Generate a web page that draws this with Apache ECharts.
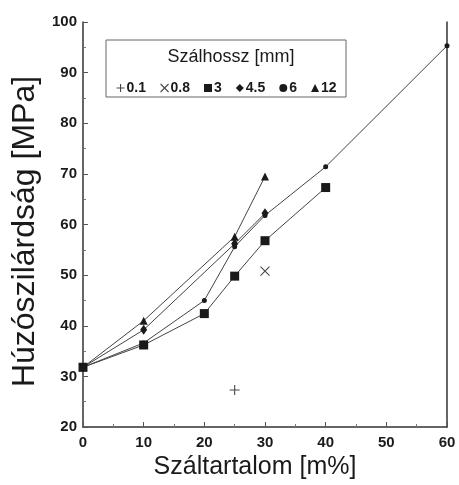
<!DOCTYPE html>
<html>
<head>
<meta charset="utf-8">
<script src="https://cdn.jsdelivr.net/npm/echarts@6/dist/echarts.min.js"></script>
<style>
  html, body { margin: 0; padding: 0; background: #fff; }
  #chart { width: 459px; height: 485px; }
</style>
</head>
<body>
<div id="chart"></div>
<script>
// Fibre length series (mm) and measured tensile strength (MPa) vs fibre content (m%)
const lengthNames = ['0.1', '0.8', '3', '4.5', '6', '12'];

const len01 = [[25, 27.3]];
const len08 = [[30, 50.8]];
const len3  = [[0, 31.8], [10, 36.2], [20, 42.4], [25, 49.8], [30, 56.8], [40, 67.3]];
const len45 = [[0, 31.8], [10, 39.2], [25, 56.2], [30, 62.2]];
const len6  = [[0, 31.8], [10, 36.6], [20, 45.0], [25, 55.6], [30, 61.8], [40, 71.4], [60, 95.3]];
const len12 = [[0, 31.8], [10, 41.0], [25, 57.6], [30, 69.5]];

const xTitle = 'Száltartalom [m%]';
const yTitle = 'Húzószilárdság [MPa]';
const legendTitle = 'Szálhossz [mm]';

const plusPath = 'path://M5,0V10M0,5H10';
const crossPath = 'path://M0,0L10,10M10,0L0,10';

const ink = '#1a1a1a';
const lineInk = '#444';
const font = 'Liberation Sans, Arial, Helvetica, sans-serif';

const chart = echarts.init(document.getElementById('chart'), null, { renderer: 'canvas' });

const strokeStyle = { color: 'rgba(0,0,0,0)', borderColor: ink, borderWidth: 1.1 };

chart.setOption({
  animation: false,
  backgroundColor: '#fff',
  grid: { left: 83, right: 12, top: 22, bottom: 58 },
  graphic: [
    {
      type: 'rect', z: 90,
      shape: { x: 106, y: 40, width: 240, height: 57 },
      style: { fill: '#fff', stroke: '#666', lineWidth: 1 }
    },
    {
      type: 'text', z: 95,
      style: {
        x: 231, y: 57, text: legendTitle, align: 'center', verticalAlign: 'middle',
        font: '18px ' + font, fill: ink
      }
    }
  ],
  legend: {
    z: 100,
    left: 111, top: 76,
    orient: 'horizontal',
    itemWidth: 8, itemHeight: 8, itemGap: 14,
    textStyle: { fontFamily: font, fontSize: 14, fontWeight: 'bold', color: ink, padding: [0, 0, 0, -3] },
    data: [
      { name: '0.1', icon: plusPath, itemStyle: strokeStyle },
      { name: '0.8', icon: crossPath, itemStyle: strokeStyle },
      { name: '3', icon: 'rect' },
      { name: '4.5', icon: 'diamond' },
      { name: '6', icon: 'circle' },
      { name: '12', icon: 'triangle' }
    ]
  },
  xAxis: {
    type: 'value', min: 0, max: 60, interval: 10,
    name: xTitle, nameLocation: 'middle', nameGap: 24,
    nameTextStyle: { fontFamily: font, fontSize: 25, color: ink, padding: [0, 20, 0, 0] },
    axisLine: { show: true, onZero: false, lineStyle: { color: '#333', width: 1.5 } },
    axisTick: { show: true, inside: true, length: 5, lineStyle: { color: '#555' } },
    minorTick: { show: true, splitNumber: 2, length: 3, lineStyle: { color: '#777' } },
    axisLabel: { fontFamily: font, fontSize: 15, fontWeight: 'bold', color: ink, margin: 8 },
    splitLine: { show: false }
  },
  yAxis: [
    {
      type: 'value', min: 20, max: 100, interval: 10,
      name: yTitle, nameLocation: 'middle', nameGap: 38, nameRotate: 90,
      nameTextStyle: { fontFamily: font, fontSize: 32, color: ink, padding: [0, 14, 0, 0] },
      axisLine: { show: true, onZero: false, lineStyle: { color: '#333', width: 1.5 } },
      axisTick: { show: true, inside: true, length: 5, lineStyle: { color: '#555' } },
      minorTick: { show: true, splitNumber: 2, length: 3, lineStyle: { color: '#777' } },
      axisLabel: { fontFamily: font, fontSize: 15, fontWeight: 'bold', color: ink, margin: 6 },
      splitLine: { show: false }
    },
    {
      type: 'value', min: 20, max: 100, interval: 10, position: 'right',
      axisLine: { show: true, onZero: false, lineStyle: { color: '#333', width: 1.5 } },
      axisTick: { show: false }, axisLabel: { show: false }, splitLine: { show: false }
    }
  ],
  series: [
    {
      name: '0.1', type: 'scatter', data: len01,
      symbol: plusPath, symbolSize: 10, itemStyle: strokeStyle
    },
    {
      name: '0.8', type: 'scatter', data: len08,
      symbol: crossPath, symbolSize: 9, itemStyle: strokeStyle
    },
    {
      name: '3', type: 'line', data: len3, symbol: 'rect', symbolSize: 9,
      lineStyle: { color: lineInk, width: 1 }, itemStyle: { color: ink }
    },
    {
      name: '4.5', type: 'line', data: len45, symbol: 'diamond', symbolSize: [7, 10],
      lineStyle: { color: lineInk, width: 1 }, itemStyle: { color: ink }
    },
    {
      name: '6', type: 'line', data: len6, symbol: 'circle', symbolSize: 5,
      lineStyle: { color: lineInk, width: 1 }, itemStyle: { color: ink }
    },
    {
      name: '12', type: 'line', data: len12, symbol: 'triangle', symbolSize: 8,
      lineStyle: { color: lineInk, width: 1 }, itemStyle: { color: ink }
    }
  ]
});
</script>
</body>
</html>
